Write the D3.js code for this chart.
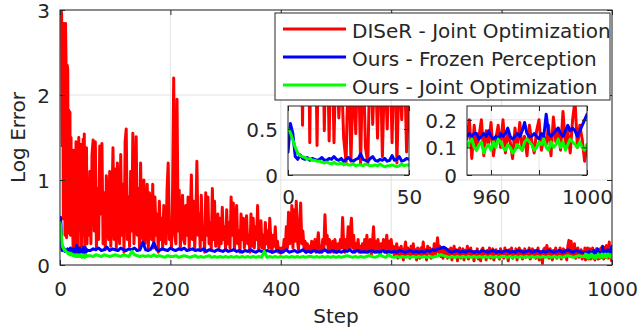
<!DOCTYPE html>
<html><head><meta charset="utf-8">
<script src="https://cdn.jsdelivr.net/npm/d3@7"></script>
<style>
body{margin:0;background:#fff}
text{font-family:"DejaVu Sans",sans-serif;fill:#262626}
</style>
</head><body>
<svg id="c" width="638" height="331"></svg>
<script>
// ---------- data ----------
const seriesNames = ["DISeR - Joint Optimization", "Ours - Frozen Perception", "Ours - Joint Optimization"];
const seriesColors = ["#ff0000", "#0000ff", "#00ff00"];
const xTicks = [0, 200, 400, 600, 800, 1000];
const yTicks = [0, 1, 2, 3];
const inset1YTicks = [0, 0.5];
const inset1XTicks = [0, 50];
const inset2YTicks = [0, 0.1, 0.2];
const inset2XTicks = [960, 980, 1000];
const inset2XLabels = ["960", "", "1000"];

// steps 0..50 (every step)
const redHead = [3.00, 2.98, 3.00, 2.95, 1.40, 2.84, 0.54, 2.84, 2.80, 0.35,
 2.84, 2.35, 0.32, 2.35, 2.30, 0.48, 1.82, 0.37, 1.80, 0.35,
 1.50, 0.62, 1.20, 0.40, 0.14, 1.35, 0.15, 1.10, 0.45, 1.45,
 0.12, 1.40, 0.30, 0.13, 1.50, 0.55, 1.30, 0.40, 1.42, 0.20,
 1.25, 0.50, 1.48, 0.35, 1.54, 0.13, 1.20, 0.60, 1.38, 0.25,
 0.90];
const blueHead = [0.25, 0.56, 0.45, 0.20, 0.17, 0.22, 0.18, 0.17, 0.19, 0.16,
 0.18, 0.17, 0.16, 0.17, 0.19, 0.16, 0.16, 0.18, 0.17, 0.20,
 0.17, 0.16, 0.18, 0.15, 0.17, 0.19, 0.16, 0.15, 0.17, 0.18,
 0.23, 0.17, 0.16, 0.15, 0.18, 0.20, 0.16, 0.15, 0.17, 0.16,
 0.18, 0.15, 0.16, 0.21, 0.16, 0.17, 0.20, 0.15, 0.16, 0.18,
 0.17];
const greenHead = [0.50, 0.46, 0.38, 0.30, 0.24, 0.21, 0.20, 0.19, 0.17, 0.18,
 0.16, 0.16, 0.15, 0.15, 0.14, 0.13, 0.14, 0.13, 0.12, 0.14,
 0.12, 0.12, 0.13, 0.11, 0.12, 0.11, 0.11, 0.12, 0.10, 0.11,
 0.11, 0.10, 0.12, 0.11, 0.10, 0.10, 0.11, 0.10, 0.12, 0.10,
 0.09, 0.10, 0.10, 0.11, 0.10, 0.09, 0.10, 0.12, 0.10, 0.11,
 0.11];

// red: steps 52..948 (every 2 steps)
const redMid = [
 0.35, 1.10, 0.25, 1.30, 1.47, 0.40, 1.45, 0.20, 0.90, 0.30, 1.40, 0.60, 1.43, 0.25, 0.85, 0.18, 1.05, 0.45, 0.30, 1.10, 0.22, 0.70, 1.38, 0.30, 1.13,
 0.20, 1.20, 0.50, 0.25, 1.30, 0.35, 0.95, 0.15, 1.45, 1.60, 0.30, 0.80, 0.22, 1.10, 0.40, 1.55, 0.25, 0.70, 1.51, 0.35, 0.90, 0.20, 1.20, 0.45, 0.30,
 1.00, 0.25, 0.60, 0.95, 0.18, 0.85, 0.40, 0.30, 0.95, 0.20, 0.80, 0.35, 0.60, 0.15, 0.75, 0.30, 0.55, 0.20, 0.70, 0.40, 0.25, 0.90, 1.20, 0.30, 0.45,
 0.20, 0.90, 2.20, 0.35, 0.25, 1.95, 0.40, 0.88, 0.20, 0.60, 0.82, 0.30, 0.25, 0.70, 0.35, 0.80, 0.20, 0.55, 1.06, 0.30, 0.75, 0.20, 0.50, 1.22, 0.35,
 0.60, 0.20, 0.82, 0.30, 0.45, 0.15, 0.85, 0.35, 0.80, 0.25, 0.50, 0.18, 0.90, 0.30, 0.75, 0.22, 0.40, 0.60, 0.20, 0.55, 0.25, 0.68, 0.30, 0.45, 0.18,
 0.65, 0.25, 0.50, 0.20, 0.80, 0.35, 0.73, 0.18, 0.45, 0.70, 0.25, 0.40, 0.15, 0.60, 0.30, 0.55, 0.20, 0.48, 0.58, 0.25, 0.35, 0.15, 0.60, 0.22, 0.55,
 0.20, 0.45, 0.30, 0.70, 0.18, 0.40, 0.52, 0.20, 0.35, 0.15, 0.50, 0.25, 0.40, 0.20, 0.55, 0.28, 0.15, 0.35, 0.22, 0.45, 0.18, 0.28, 0.15, 0.20, 0.14,
 0.20, 0.15, 0.30, 0.18, 0.45, 0.20, 0.62, 0.25, 0.30, 0.70, 0.20, 0.65, 0.28, 0.75, 0.30, 0.18, 0.50, 0.73, 0.25, 0.40, 0.20, 0.28, 0.15, 0.25, 0.18,
 0.22, 0.15, 0.28, 0.18, 0.20, 0.30, 0.15, 0.25, 0.38, 0.18, 0.22, 0.15, 0.30, 0.20, 0.59, 0.25, 0.35, 0.18, 0.30, 0.15, 0.22, 0.28, 0.15, 0.30, 0.20,
 0.15, 0.25, 0.18, 0.30, 0.20, 0.56, 0.22, 0.15, 0.30, 0.20, 0.45, 0.18, 0.40, 0.55, 0.20, 0.35, 0.15, 0.25, 0.18, 0.30, 0.15, 0.22, 0.18, 0.25, 0.15,
 0.30, 0.18, 0.35, 0.15, 0.22, 0.30, 0.12, 0.25, 0.45, 0.18, 0.28, 0.15, 0.30, 0.20, 0.12, 0.25, 0.18, 0.30, 0.15, 0.22, 0.35, 0.12, 0.28, 0.18, 0.30,
 0.15, 0.22, 0.10, 0.18, 0.25, 0.08, 0.20, 0.12, 0.22, 0.15, 0.06, 0.18, 0.27, 0.10, 0.20, 0.14, 0.08, 0.22, 0.12, 0.25, 0.10, 0.18, 0.06, 0.20, 0.14,
 0.08, 0.20, 0.12, 0.27, 0.10, 0.18, 0.06, 0.22, 0.14, 0.20, 0.08, 0.18, 0.12, 0.25, 0.10, 0.20, 0.32, 0.15, 0.22, 0.10, 0.18, 0.08, 0.20, 0.12, 0.15,
 0.08, 0.18, 0.12, 0.20, 0.06, 0.15, 0.22, 0.10, 0.18, 0.05, 0.16, 0.20, 0.08, 0.14, 0.19, 0.06, 0.17, 0.12, 0.22, 0.07, 0.15, 0.20, 0.10, 0.16, 0.05,
 0.16, 0.12, 0.19, 0.07, 0.15, 0.05, 0.18, 0.20, 0.10, 0.16, 0.06, 0.17, 0.12, 0.20, 0.08, 0.15, 0.19, 0.06, 0.14, 0.18, 0.10, 0.16, 0.07, 0.19, 0.12,
 0.16, 0.08, 0.20, 0.12, 0.15, 0.05, 0.18, 0.13, 0.20, 0.08, 0.16, 0.12, 0.19, 0.06, 0.15, 0.20, 0.10, 0.17, 0.07, 0.14, 0.19, 0.09, 0.16, 0.12, 0.20,
 0.07, 0.15, 0.19, 0.10, 0.17, 0.08, 0.14, 0.20, 0.06, 0.16, 0.12, 0.02, 0.18, 0.20, 0.10, 0.23, 0.15, 0.08, 0.19, 0.12, 0.06, 0.17, 0.14, 0.20, 0.08,
 0.16, 0.12, 0.20, 0.07, 0.15, 0.19, 0.10, 0.17, 0.06, 0.22, 0.29, 0.12, 0.28, 0.10, 0.18, 0.25, 0.08, 0.16, 0.20, 0.09, 0.15, 0.18, 0.07, 0.16];

// blue / green: steps 55..945 (every 5 steps)
const blueMid = [0.17, 0.19, 0.18, 0.20, 0.17, 0.18, 0.21, 0.17, 0.19, 0.18,
 0.17, 0.20, 0.18, 0.17, 0.19, 0.18, 0.20, 0.17, 0.18, 0.27,
 0.18, 0.17, 0.19, 0.26, 0.18, 0.17, 0.19, 0.18, 0.17, 0.20,
 0.18, 0.17, 0.19, 0.18, 0.20, 0.17, 0.18, 0.19, 0.17, 0.18,
 0.17, 0.19, 0.16, 0.18, 0.17, 0.16, 0.18, 0.17, 0.16, 0.18,
 0.16, 0.17, 0.18, 0.16, 0.17, 0.15, 0.17, 0.16, 0.18, 0.16,
 0.15, 0.17, 0.16, 0.15, 0.17, 0.16, 0.15, 0.16, 0.17, 0.15,
 0.16, 0.18, 0.15, 0.16, 0.17, 0.15, 0.16, 0.18, 0.15, 0.16,
 0.15, 0.17, 0.16, 0.15, 0.16, 0.18, 0.15, 0.16, 0.17, 0.15,
 0.16, 0.15, 0.17, 0.16, 0.18, 0.15, 0.16, 0.17, 0.15, 0.16,
 0.15, 0.16, 0.17, 0.15, 0.16, 0.15, 0.17, 0.15, 0.16, 0.15,
 0.16, 0.15, 0.17, 0.16, 0.15, 0.16, 0.17, 0.15, 0.16, 0.15,
 0.16, 0.15, 0.17, 0.16, 0.18, 0.17, 0.19, 0.20, 0.21, 0.19,
 0.16, 0.15, 0.16, 0.17, 0.15, 0.16, 0.15, 0.17, 0.16, 0.15,
 0.16, 0.15, 0.17, 0.16, 0.15, 0.16, 0.17, 0.15, 0.16, 0.15,
 0.16, 0.17, 0.15, 0.16, 0.15, 0.17, 0.16, 0.15, 0.16, 0.17,
 0.15, 0.16, 0.17, 0.15, 0.16, 0.15, 0.17, 0.16, 0.15, 0.16,
 0.17, 0.15, 0.16, 0.18, 0.16, 0.15, 0.17, 0.16, 0.15];
const greenMid = [0.11, 0.10, 0.12, 0.11, 0.10, 0.12, 0.11, 0.10, 0.11, 0.12,
 0.11, 0.10, 0.12, 0.11, 0.10, 0.16, 0.12, 0.11, 0.10, 0.11,
 0.10, 0.11, 0.10, 0.12, 0.10, 0.11, 0.10, 0.09, 0.11, 0.10,
 0.10, 0.11, 0.09, 0.10, 0.11, 0.10, 0.09, 0.10, 0.11, 0.09,
 0.10, 0.09, 0.10, 0.11, 0.09, 0.10, 0.09, 0.10, 0.09, 0.10,
 0.09, 0.10, 0.09, 0.10, 0.09, 0.10, 0.09, 0.10, 0.09, 0.10,
 0.09, 0.10, 0.09, 0.16, 0.09, 0.10, 0.09, 0.10, 0.09, 0.10,
 0.09, 0.10, 0.09, 0.10, 0.09, 0.10, 0.09, 0.10, 0.09, 0.10,
 0.10, 0.09, 0.10, 0.09, 0.10, 0.09, 0.10, 0.09, 0.10, 0.09,
 0.10, 0.09, 0.10, 0.11, 0.10, 0.09, 0.10, 0.09, 0.10, 0.09,
 0.10, 0.11, 0.10, 0.09, 0.10, 0.12, 0.10, 0.09, 0.12, 0.10,
 0.09, 0.10, 0.09, 0.10, 0.09, 0.10, 0.09, 0.10, 0.09, 0.10,
 0.09, 0.10, 0.09, 0.10, 0.09, 0.10, 0.11, 0.12, 0.11, 0.10,
 0.09, 0.10, 0.09, 0.10, 0.09, 0.10, 0.09, 0.10, 0.09, 0.10,
 0.09, 0.10, 0.09, 0.10, 0.09, 0.10, 0.09, 0.10, 0.09, 0.10,
 0.10, 0.09, 0.10, 0.09, 0.10, 0.09, 0.10, 0.09, 0.10, 0.09,
 0.10, 0.09, 0.10, 0.09, 0.10, 0.09, 0.10, 0.09, 0.10, 0.09,
 0.10, 0.09, 0.10, 0.11, 0.10, 0.09, 0.10, 0.11, 0.10];

// steps 950..1000 (every step)
const redTail = [0.13, 0.20, 0.06, 0.18, 0.09, 0.14, 0.20, 0.07, 0.16, 0.11,
 0.19, 0.07, 0.13, 0.18, 0.10, 0.20, 0.08, 0.15, 0.12, 0.06,
 0.17, 0.10, 0.19, 0.09, 0.14, 0.07, 0.18, 0.12, 0.08, 0.16,
 0.20, 0.09, 0.14, 0.11, 0.18, 0.07, 0.21, 0.12, 0.17, 0.09,
 0.23, 0.11, 0.16, 0.08, 0.20, 0.27, 0.10, 0.18, 0.13, 0.05,
 0.11];
const blueTail = [0.14, 0.15, 0.14, 0.15, 0.15, 0.13, 0.14, 0.15, 0.14, 0.16,
 0.14, 0.13, 0.14, 0.13, 0.15, 0.14, 0.15, 0.17, 0.14, 0.13,
 0.14, 0.15, 0.14, 0.16, 0.19, 0.15, 0.14, 0.14, 0.15, 0.14,
 0.13, 0.15, 0.14, 0.22, 0.15, 0.14, 0.15, 0.16, 0.17, 0.15,
 0.14, 0.16, 0.18, 0.16, 0.17, 0.16, 0.14, 0.16, 0.18, 0.20,
 0.22];
const greenTail = [0.10, 0.12, 0.13, 0.10, 0.09, 0.11, 0.12, 0.08, 0.10, 0.11,
 0.09, 0.12, 0.10, 0.13, 0.12, 0.10, 0.09, 0.11, 0.10, 0.08,
 0.09, 0.11, 0.10, 0.09, 0.12, 0.13, 0.12, 0.11, 0.09, 0.10,
 0.12, 0.11, 0.13, 0.10, 0.09, 0.12, 0.10, 0.11, 0.13, 0.10,
 0.12, 0.09, 0.11, 0.13, 0.12, 0.11, 0.10, 0.12, 0.10, 0.09,
 0.11];

// ---------- build ----------
const stepsHead = d3.range(0, 51);
const stepsRedMid = d3.range(52, 950, 2);
const stepsMid = d3.range(55, 950, 5);
const stepsTail = d3.range(950, 1001);
const zipS = (s, v) => s.map((st, i) => [st, v[i]]);
const mainSeries = [
  zipS([...stepsHead, ...stepsRedMid, ...stepsTail], [...redHead, ...redMid, ...redTail]),
  zipS([...stepsHead, ...stepsMid, ...stepsTail], [...blueHead, ...blueMid, ...blueTail]),
  zipS([...stepsHead, ...stepsMid, ...stepsTail], [...greenHead, ...greenMid, ...greenTail])
];
const inset1Series = [zipS(stepsHead, redHead), zipS(stepsHead, blueHead), zipS(stepsHead, greenHead)];
const inset2Series = [zipS(stepsTail, redTail), zipS(stepsTail, blueTail), zipS(stepsTail, greenTail)];

const svg = d3.select("#c");
const AX = "#262626", GRID = "#e3e3e3", FS = 20, FONT = '"DejaVu Sans",sans-serif';

function panel(id, xDom, yDom, box, xt, xl, yt, ylFmt, yGrid, xGrid, series, lw, xPad) {
  const [L, R, T, B] = box;
  const x = d3.scaleLinear(xDom, [L, R]);
  const y = d3.scaleLinear(yDom, [B, T]);
  const g = svg.append("g");
  g.append("rect").attr("x", L).attr("y", T).attr("width", R - L).attr("height", B - T).attr("fill", "#fff");
  g.append("g").selectAll("line").data(xGrid).join("line")
    .attr("x1", d => x(d)).attr("x2", d => x(d)).attr("y1", T).attr("y2", B)
    .attr("stroke", GRID).attr("stroke-width", 1);
  g.append("g").selectAll("line").data(yGrid).join("line")
    .attr("y1", d => y(d)).attr("y2", d => y(d)).attr("x1", L).attr("x2", R)
    .attr("stroke", GRID).attr("stroke-width", 1);
  g.append("clipPath").attr("id", id).append("rect").attr("x", L).attr("y", T).attr("width", R - L).attr("height", B - T);
  const line = d3.line().x(d => x(d[0])).y(d => y(d[1]));
  const lg = g.append("g").attr("clip-path", `url(#${id})`);
  series.forEach((s, i) => {
    lg.append("path").attr("d", line(s)).attr("fill", "none").attr("stroke", seriesColors[i])
      .attr("stroke-width", lw).attr("stroke-linejoin", "round").attr("stroke-linecap", "round");
  });
  const tl = 5;
  g.append("g").attr("transform", `translate(0,${B})`)
    .call(d3.axisBottom(x).tickValues(xt).tickSizeInner(-tl).tickSizeOuter(0).tickPadding(xPad)
      .tickFormat((d, i) => xl ? xl[i] : d));
  g.append("g").attr("transform", `translate(0,${T})`)
    .call(d3.axisTop(x).tickValues(xt).tickSizeInner(-tl).tickSizeOuter(0).tickFormat(""));
  const ay = g.append("g").attr("transform", `translate(${L},0)`)
    .call(d3.axisLeft(y).tickValues(yt).tickSizeInner(-tl).tickSizeOuter(0).tickPadding(10).tickFormat(ylFmt));
  ay.selectAll(".tick text").attr("dy", "0.37em");
  g.append("g").attr("transform", `translate(${R},0)`)
    .call(d3.axisRight(y).tickValues(yt).tickSizeInner(-tl).tickSizeOuter(0).tickFormat(""));
  g.selectAll(".domain").remove();
  g.selectAll(".tick line").attr("stroke", AX);
  g.selectAll(".tick text").attr("font-size", FS).attr("font-family", FONT).attr("fill", AX);
  g.append("rect").attr("x", L).attr("y", T).attr("width", R - L).attr("height", B - T)
    .attr("fill", "none").attr("stroke", AX).attr("stroke-width", 1);
  return { x, y };
}

// main
panel("clipMain", [0, 1000], [0, 3], [60, 612, 10, 265], xTicks, null, yTicks, d3.format("d"),
  yTicks, xTicks, mainSeries, 3, 17);

// axis labels
svg.append("text").attr("x", 336).attr("y", 323).attr("text-anchor", "middle").attr("font-size", FS).text("Step");
svg.append("text").attr("transform", "translate(25,137.5) rotate(-90)").attr("text-anchor", "middle")
  .attr("font-size", FS).text("Log Error");

// legend
const leg = svg.append("g");
leg.append("rect").attr("x", 275).attr("y", 13).attr("width", 335).attr("height", 87)
  .attr("fill", "#fff").attr("stroke", AX).attr("stroke-width", 1);
seriesNames.forEach((n, i) => {
  const yy = 29 + i * 28;
  leg.append("line").attr("x1", 283).attr("x2", 346).attr("y1", yy).attr("y2", yy)
    .attr("stroke", seriesColors[i]).attr("stroke-width", 3);
  leg.append("text").attr("x", 352).attr("y", yy).attr("dy", "0.45em").attr("font-size", FS).text(n);
});

// insets
panel("clipIn1", [0, 50], [0, 0.75], [288, 409, 106, 175], inset1XTicks, null, inset1YTicks, d3.format(""),
  [0.5], [], inset1Series, 3, 15);
panel("clipIn2", [950, 1000], [0, 0.25], [467, 587, 106, 175], inset2XTicks, inset2XLabels, inset2YTicks, d3.format(""),
  [0.1, 0.2], [960, 980], inset2Series, 3, 15);
</script>
</body></html>
